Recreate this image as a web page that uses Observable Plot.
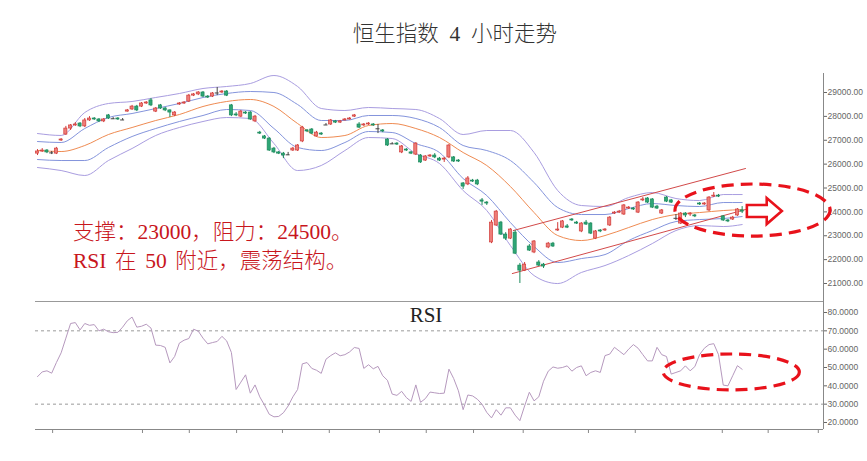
<!DOCTYPE html>
<html><head><meta charset="utf-8">
<script src="https://cdn.jsdelivr.net/npm/d3@7"></script>
<script src="https://cdn.jsdelivr.net/npm/@observablehq/plot@0.6"></script>
<style>
body{margin:0;background:#fff}
#wrap{position:relative;width:867px;height:461px;overflow:hidden;background:#fff}
.t{position:absolute;white-space:nowrap;font-family:"Liberation Serif","Noto Sans CJK SC",serif;font-weight:300}
#title{left:0;width:910px;text-align:center;top:24px;font-size:21.5px;line-height:21px;color:#333;word-spacing:0.25em}
#note{left:73px;top:218px;font-size:21.5px;line-height:29px;color:#c8161d;word-spacing:0.15em}
#rsiLabel{left:0;width:852px;text-align:center;top:305px;font-size:21px;line-height:21px;color:#222}
#main{position:absolute;left:0;top:60px}
#rsi{position:absolute;left:0;top:301px}
</style></head>
<body><div id="wrap">
<div id="main"></div><div id="rsi"></div>
<div id="title" class="t">恒生指数 4 小时走势</div>
<div id="note" class="t">支撑：23000，阻力：24500。<br>RSI 在 50 附近，震荡结构。</div>
<div id="rsiLabel" class="t">RSI</div>
</div>
<script>
// ---- 4-hour candles (price) ----
const open = [26440,26530,26570,26490,26440,26990,27240,27490,27620,27700,
 27580,27830,27910,27870,27790,28040,27910,27910,27870,28200,
 28290,28410,28410,28540,28670,28200,28460,28330,28250,28040,
 28500,28540,28620,28870,28920,29000,28830,28830,28960,29000,
 29040,28460,28080,27990,28160,28160,27790,27320,27160,27070,
 26650,26490,26440,26400,26570,26570,26950,27410,27450,27160,
 27280,27660,27660,27790,27740,27830,27870,27990,27660,27620,
 27660,27660,27490,27410,27030,26860,26860,26490,26610,26490,
 26400,26360,26150,26320,26360,26230,26190,26280,26280,26150,
 25190,25150,25310,25310,24480,24390,22720,23430,23550,23050,
 22880,23130,21750,21540,22550,22300,21880,21790,22510,22670,
 23220,23340,23390,23680,23550,23180,23550,23510,22880,23220,
 23220,23430,23930,23970,23890,24140,24140,23970,24480,24560,
 24520,24220,23930,24600,24480,23760,23510,23930,23890,23850,
 24350,24310,24060,24640,24680,23810,23640,23680,23850,24060];
const high = [26610,26650,26610,26530,26700,27070,27580,27660,27740,27740,
 27910,27990,27950,27910,27910,28080,27950,27950,27910,28290,
 28460,28460,28580,28620,28750,28370,28500,28370,28270,28200,
 28580,28620,28920,28960,29040,29040,28870,29000,29210,29080,
 29080,28500,28160,28250,28200,28200,28040,27370,27200,27110,
 26700,26530,26490,26490,26700,26820,27580,27450,27490,27370,
 27320,27700,27870,27830,27830,27910,27950,28080,27740,27700,
 27740,27700,27660,27450,27070,26900,26900,26780,26650,26530,
 26900,26400,26360,26400,26440,26280,26280,26820,26320,26190,
 25230,25480,25360,25360,24560,24430,23640,24060,23600,23130,
 23300,23220,21840,21880,22630,22800,21960,21840,22720,22720,
 23550,23640,23470,23720,23600,23550,23640,23550,23220,23260,
 23300,23800,24010,24060,24310,24220,24180,24430,24600,24600,
 24560,24270,24100,24640,24520,23890,23970,23970,23970,23890,
 24390,24390,24640,24810,24730,23850,23680,23810,24140,24220];
const low = [26360,26490,26440,26400,26400,26950,27200,27410,27580,27530,
 27530,27790,27830,27740,27740,27870,27870,27830,27830,28180,
 28250,28200,28370,28500,28410,28160,28290,28200,27950,27990,
 28460,28500,28580,28830,28870,28790,28750,28790,28870,28960,
 28830,27990,27990,27950,28080,27830,27740,27240,27030,26530,
 26440,26400,26230,26360,26530,26530,26900,27320,27240,27140,
 27200,27620,27620,27700,27700,27810,27850,27950,27490,27580,
 27620,27580,27280,27320,26740,26820,26780,26440,26530,26400,
 26360,26030,26110,26280,26230,26110,26070,26230,26070,26070,
 24940,25100,25230,25100,24270,24270,22670,23390,23010,22800,
 22840,22210,21000,21500,22340,22250,21710,21630,22460,22510,
 23180,23300,23300,23600,23470,23130,23430,23050,22840,23130,
 23180,23390,23890,23930,23850,24100,24060,23930,24430,24350,
 24140,24100,23890,24390,24350,23640,23470,23760,23810,23760,
 24270,24270,24010,24600,24600,23600,23550,23640,23810,23930];
const close = [26530,26570,26490,26470,26650,27030,27490,27620,27660,27580,
 27830,27910,27870,27790,27870,27910,27900,27870,27850,28250,
 28410,28250,28540,28580,28460,28330,28330,28250,28160,28160,
 28540,28580,28870,28920,29000,28830,28790,28960,28980,29040,
 28870,28040,28040,28200,28120,27870,27990,27280,27070,26570,
 26490,26440,26360,26390,26650,26780,27530,27370,27280,27320,
 27240,27640,27830,27740,27790,27870,27910,28040,27530,27660,
 27700,27620,27480,27370,26780,26850,26820,26740,26570,26440,
 26860,26070,26320,26360,26280,26150,26230,26780,26110,26110,
 25060,25400,25270,25150,24430,24350,23550,24010,23050,22880,
 23260,22250,21540,21790,22380,22760,21750,21710,22670,22550,
 23260,23600,23340,23640,23510,23510,23470,23090,23180,23180,
 23260,23760,23970,24010,24270,24180,24100,24390,24520,24390,
 24180,24140,24060,24430,24390,23730,23930,23850,23930,23810,
 24310,24350,24600,24680,24640,23640,23600,23760,24100,24010];

// ---- Bollinger bands, read every 5 bars ----
const bandIdx = [0,5,10,15,20,25,30,35,40,45,50,55,60,65,70,75,80,85,90,95,100,105,110,115,120,125,130,135,140,145,149];
const bandOU  = [27282,27200,28162,28539,28623,28791,28958,29168,29252,29377,29712,29252,28330,28246,28372,28330,28288,27911,27240,27408,27408,26486,24894,24266,24224,24601,24810,24559,24475,24726,24726];
const bandIU  = [26947,26905,27492,27953,28120,28330,28539,28791,28958,29042,29000,28497,27827,27827,28037,28037,27911,27534,26780,26570,26151,25229,24182,23889,23889,24140,24349,24266,24224,24391,24391];
const bandMid = [26570,26528,26780,27240,27534,27827,28078,28414,28623,28707,28414,27701,27115,27199,27618,27701,27492,27115,26486,25942,25062,23972,23009,22799,23009,23344,23679,23889,23972,24056,24098];
const bandIL  = [26193,26151,26151,26696,27157,27492,27785,28037,28288,28246,27492,26696,26570,26905,27366,27324,26863,26486,25397,24685,23553,22548,21877,22045,22212,22799,23218,23595,23679,23721,23805];
const bandOL  = [25858,25732,25523,26151,26654,27199,27534,27785,27953,27911,26863,25732,25942,26570,27115,27073,26444,26025,24894,24056,22590,21333,20998,21462,21752,22171,22673,23218,23428,23386,23469];

// ---- RSI ----
const rsi = [45,47.6,48.2,46.9,52.7,58,66,74,74.5,70.5,
 74,73,73.4,70,70.9,69.5,69,69.2,72,75.5,
 77.5,72,72.5,73.6,71.5,62.2,62,61,52.5,56,
 63.3,64.9,65.8,70.9,69.8,66,62.9,63.6,64.2,67,
 64.5,58.2,38,42,46,36,40.5,34,29.5,24.5,
 23.1,23.3,25.3,29,34,38,52,52.7,49.5,48.5,
 46.8,54.5,56.5,58,56.4,57,58.5,60.9,60.4,49.5,
 51.5,49.3,50.6,45.5,43,35.5,34.8,37,33.6,31.5,
 40.5,31,33,36.6,36.2,35.8,36,49.1,44,37.3,
 27,35,34.5,32.7,30,25.5,22.5,27,24,28,
 28,24,21,29,36.5,31.8,34,42.5,48,50.3,
 49.6,50,50.9,48,50,50.9,45.5,47.3,48.2,47.3,
 56.5,57.3,61,59,57,60,62.5,60.5,57,53.6,
 53.6,61,57,56,46.4,47.3,48.2,50.9,48.2,50.5,
 57,60.5,62.5,63,57,40.4,40,45.5,51,49];

// ---- ticks ----
const priceTicks = [21000,22000,23000,24000,25000,26000,27000,28000,29000];
const rsiTicks = [20,30,40,50,60,70,80];
const timeTicks = [3.2,22.2,32.1,42.1,51.8,61.7,72.3,82.2,92.2,102.7,116.5,126.4,144.8,154.5,165.1];

// ---- channel & annotations (data units) ----
const trendUpper = [{i:100.6, p:23218},{i:149.7, p:25816}];
const trendLower = [{i:100.4, p:21416},{i:149.7, p:24098}];
const mainOval = {cx:151.3, cy:24056, rx:16.4, ry:1090};
const rsiOval  = {cx:146.8, cy:47.3, rx:14.4, ry:9.8};
const arrowPts = [[150.1,24265],[154.3,24265],[154.3,24559],[157.5,24014],[154.3,23469],[154.3,23763],[150.1,23763]];

const candles = close.map((c,i)=>({i, o:open[i], h:high[i], l:low[i], c, up:c>=open[i], doji:Math.abs(c-open[i])<35}));
const bands = bandIdx.map((i,k)=>({i, ou:bandOU[k], iu:bandIU[k], m:bandMid[k], il:bandIL[k], ol:bandOL[k]}));
const rsiData = rsi.map((v,i)=>({i, v}));

const XD = [-0.42, 166.2];
const W = 867;
const RED="#d23c3a", RED_FILL="#ee7d78", GREEN="#1c8a5c", GREEN_FILL="#2ea676";
const OUTER="#a99de0", INNER="#8494dc", MID="#ef8b52";
const style = {fontFamily:"'Liberation Sans', Arial, sans-serif", fontSize:"8.5px", background:"transparent", overflow:"hidden"};

const mainChart = Plot.plot({
  width:W, height:242, marginLeft:35, marginRight:W-823, marginTop:13, marginBottom:1,
  x:{domain:XD, axis:null},
  y:{domain:[20246,29796]},
  style,
  marks:[
    Plot.line(bands,{x:"i",y:"ou",stroke:OUTER,strokeWidth:1,curve:"monotone-x"}),
    Plot.line(bands,{x:"i",y:"ol",stroke:OUTER,strokeWidth:1,curve:"monotone-x"}),
    Plot.line(bands,{x:"i",y:"iu",stroke:INNER,strokeWidth:1,curve:"monotone-x"}),
    Plot.line(bands,{x:"i",y:"il",stroke:INNER,strokeWidth:1,curve:"monotone-x"}),
    Plot.line(bands,{x:"i",y:"m",stroke:MID,strokeWidth:1,curve:"monotone-x"}),
    Plot.line(trendUpper,{x:"i",y:"p",stroke:"#d24a4a",strokeWidth:1}),
    Plot.line(trendLower,{x:"i",y:"p",stroke:"#d24a4a",strokeWidth:1}),
    Plot.ruleX(candles,{x:"i",y1:"l",y2:"h",stroke:d=>d.doji?"#444":(d.up?RED:GREEN),strokeWidth:1}),
    Plot.rect(candles.filter(d=>!d.doji),{x1:d=>d.i-0.33,x2:d=>d.i+0.33,y1:"o",y2:"c",fill:d=>d.up?RED_FILL:GREEN_FILL,stroke:d=>d.up?RED:GREEN,strokeWidth:0.7}),
    Plot.ruleY(candles.filter(d=>d.doji),{y:"c",x1:d=>d.i-0.42,x2:d=>d.i+0.42,stroke:"#444",strokeWidth:1}),
    Plot.ruleX([XD[1]],{stroke:"#888"}),
    Plot.ruleY([20246],{stroke:"#999"}),
    Plot.axisY(priceTicks,{anchor:"right",label:null,tickSize:3,tickPadding:1,tickFormat:d=>d.toFixed(2),color:"#666",fontSize:8.5})
  ]
});
document.getElementById("main").appendChild(mainChart);

const rsiChart = Plot.plot({
  width:W, height:160, marginLeft:35, marginRight:W-823, marginTop:0, marginBottom:32,
  x:{domain:XD, axis:null},
  y:{domain:[16.18,86]},
  style,
  marks:[
    Plot.ruleY([30,70],{stroke:"#9a9a9a",strokeDasharray:"3,3",strokeWidth:1}),
    Plot.line(rsiData,{x:"i",y:"v",stroke:"#b699be",strokeWidth:1}),
    Plot.ruleY([16.18],{stroke:"#888"}),
    Plot.ruleX([XD[1]],{stroke:"#888"}),
    Plot.axisY(rsiTicks,{anchor:"right",label:null,tickSize:3,tickPadding:1,tickFormat:d=>d.toFixed(4),color:"#666",fontSize:8.5}),
    Plot.axisX(timeTicks,{anchor:"bottom",label:null,tickSize:4,tickFormat:()=>"",color:"#888"})
  ]
});
document.getElementById("rsi").appendChild(rsiChart);

function oval(chart, o){
  const sx=chart.scale("x"), sy=chart.scale("y");
  d3.select(chart).append("ellipse")
    .attr("cx",sx.apply(o.cx)).attr("cy",sy.apply(o.cy))
    .attr("rx",sx.apply(o.cx+o.rx)-sx.apply(o.cx))
    .attr("ry",sy.apply(o.cy)-sy.apply(o.cy+o.ry))
    .attr("fill","none").attr("stroke","#e8121b").attr("stroke-width",3.2).attr("stroke-dasharray","12,7");
}
oval(mainChart, mainOval);
oval(rsiChart, rsiOval);
{
  const sx=mainChart.scale("x"), sy=mainChart.scale("y");
  d3.select(mainChart).append("path")
    .attr("d", d3.line()(arrowPts.map(([a,b])=>[sx.apply(a),sy.apply(b)]))+"Z")
    .attr("fill","#fff").attr("stroke","#e8121b").attr("stroke-width",2.6).attr("stroke-linejoin","miter");
}
</script>
</body></html>
